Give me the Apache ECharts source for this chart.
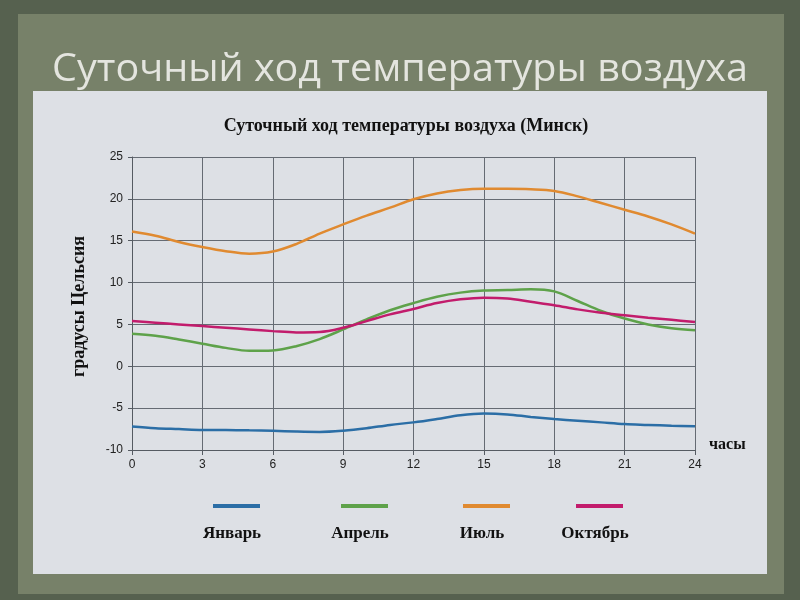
<!DOCTYPE html>
<html>
<head>
<meta charset="utf-8">
<script src="https://cdn.jsdelivr.net/npm/echarts@6/dist/echarts.min.js"></script>
<style>html,body{margin:0;padding:0;background:#5a6552;}#c{width:800px;height:600px;}</style>
</head>
<body>
<div id="c"></div>
<script>
const hours = [0, 1, 2, 3, 4, 5, 6, 7, 8, 9, 10, 11, 12, 13, 14, 15, 16, 17, 18, 19, 20, 21, 22, 23, 24];
const january = [-7.2, -7.4, -7.5, -7.6, -7.6, -7.65, -7.7, -7.8, -7.85, -7.7, -7.4, -7.0, -6.7, -6.3, -5.85, -5.65, -5.75, -6.05, -6.3, -6.5, -6.7, -6.9, -7.0, -7.1, -7.15];
const april   = [3.9, 3.65, 3.2, 2.7, 2.2, 1.85, 1.9, 2.4, 3.25, 4.4, 5.6, 6.7, 7.55, 8.3, 8.8, 9.05, 9.1, 9.2, 8.95, 7.8, 6.6, 5.7, 5.0, 4.55, 4.3];
const july    = [16.1, 15.6, 14.85, 14.25, 13.75, 13.45, 13.7, 14.6, 15.85, 16.95, 18.0, 18.95, 19.95, 20.65, 21.05, 21.2, 21.2, 21.15, 20.95, 20.3, 19.5, 18.7, 17.9, 16.95, 15.85];
const october = [5.4, 5.2, 5.0, 4.8, 4.6, 4.4, 4.2, 4.05, 4.1, 4.6, 5.4, 6.2, 6.85, 7.55, 8.0, 8.2, 8.1, 7.7, 7.3, 6.8, 6.4, 6.1, 5.8, 5.55, 5.3];
const seriesNames = ['Январь', 'Апрель', 'Июль', 'Октябрь'];
const seriesColors = ['#2b6ea6', '#5ea24a', '#e08a30', '#c21c6c'];
const xTicks = [0, 3, 6, 9, 12, 15, 18, 21, 24];
const yTicks = [-10, -5, 0, 5, 10, 15, 20, 25];

const seriesData = [january, april, july, october];
const chart = echarts.init(document.getElementById('c'));
const serif = '"Liberation Serif", "DejaVu Serif", serif';
const legendCenters = [232, 360, 482, 595];

const option = {
  backgroundColor: '#56614f',
  animation: false,
  graphic: [
    { type: 'rect', z: -10, shape: { x: 18, y: 14, width: 766, height: 580 }, style: { fill: '#778169' } },
    { type: 'rect', z: -9, shape: { x: 33, y: 91, width: 734, height: 483 }, style: { fill: '#dde0e5' } },
    { type: 'text', z: 5, x: 400, y: 70, scaleX: 1.04, style: { text: 'Суточный ход температуры воздуха', fill: '#e4e5df', align: 'center', verticalAlign: 'middle', font: '38px "Open Sans", "DejaVu Sans", sans-serif' } },
    { type: 'text', z: 5, x: 406, y: 126, style: { text: 'Суточный ход температуры воздуха (Минск)', fill: '#111', align: 'center', verticalAlign: 'middle', font: 'bold 18px ' + serif } }
  ].concat(seriesNames.map((n, i) => ({
    type: 'text', z: 5, x: legendCenters[i], y: 534,
    style: { text: n, fill: '#111', font: 'bold 17px ' + serif, align: 'center', verticalAlign: 'middle' }
  }))),
  legend: seriesNames.map((n, i) => ({
    data: [n], left: legendCenters[i] - 24, top: 499, icon: 'rect',
    itemWidth: 47, itemHeight: 4, formatter: () => '', selectedMode: false,
    textStyle: { fontSize: 1 }
  })),
  grid: { left: 132, right: 105, top: 157, bottom: 150, containLabel: false },
  xAxis: {
    type: 'value', min: 0, max: 24, interval: 3,
    name: 'часы', nameLocation: 'end', nameGap: 14,
    nameTextStyle: { fontFamily: serif, fontWeight: 'bold', fontSize: 16, color: '#111', verticalAlign: 'bottom', padding: [0, 0, -3, 0] },
    axisLine: { show: true, onZero: false, lineStyle: { color: '#555b62', width: 1 } },
    axisTick: { show: true, length: 5, lineStyle: { color: '#555b62' } },
    axisLabel: { color: '#222', fontSize: 12, fontFamily: 'Arial, "Liberation Sans", sans-serif', margin: 9, formatter: v => xTicks.includes(v) ? String(v) : '' },
    splitLine: { show: true, lineStyle: { color: '#656b73', width: 1 } }
  },
  yAxis: {
    type: 'value', min: -10, max: 25, interval: 5,
    name: 'градусы Цельсия', nameLocation: 'middle', nameGap: 44, nameRotate: 90,
    nameTextStyle: { fontFamily: serif, fontWeight: 'bold', fontSize: 18, color: '#111', padding: [0, 0, 0, -6] },
    axisLine: { show: true, onZero: false, lineStyle: { color: '#555b62', width: 1 } },
    axisTick: { show: true, length: 4, lineStyle: { color: '#555b62' } },
    axisLabel: { color: '#222', fontSize: 12, fontFamily: 'Arial, "Liberation Sans", sans-serif', margin: 9, formatter: v => yTicks.includes(v) ? String(v) : '' },
    splitLine: { show: true, lineStyle: { color: '#656b73', width: 1 } }
  },
  series: seriesNames.map((n, i) => ({
    name: n, type: 'line', smooth: 0.35, showSymbol: false, symbol: 'none',
    data: hours.map((h, k) => [h, seriesData[i][k]]),
    lineStyle: { color: seriesColors[i], width: 2.5 },
    itemStyle: { color: seriesColors[i] },
    z: 3
  }))
};
chart.setOption(option);
</script>
</body>
</html>
